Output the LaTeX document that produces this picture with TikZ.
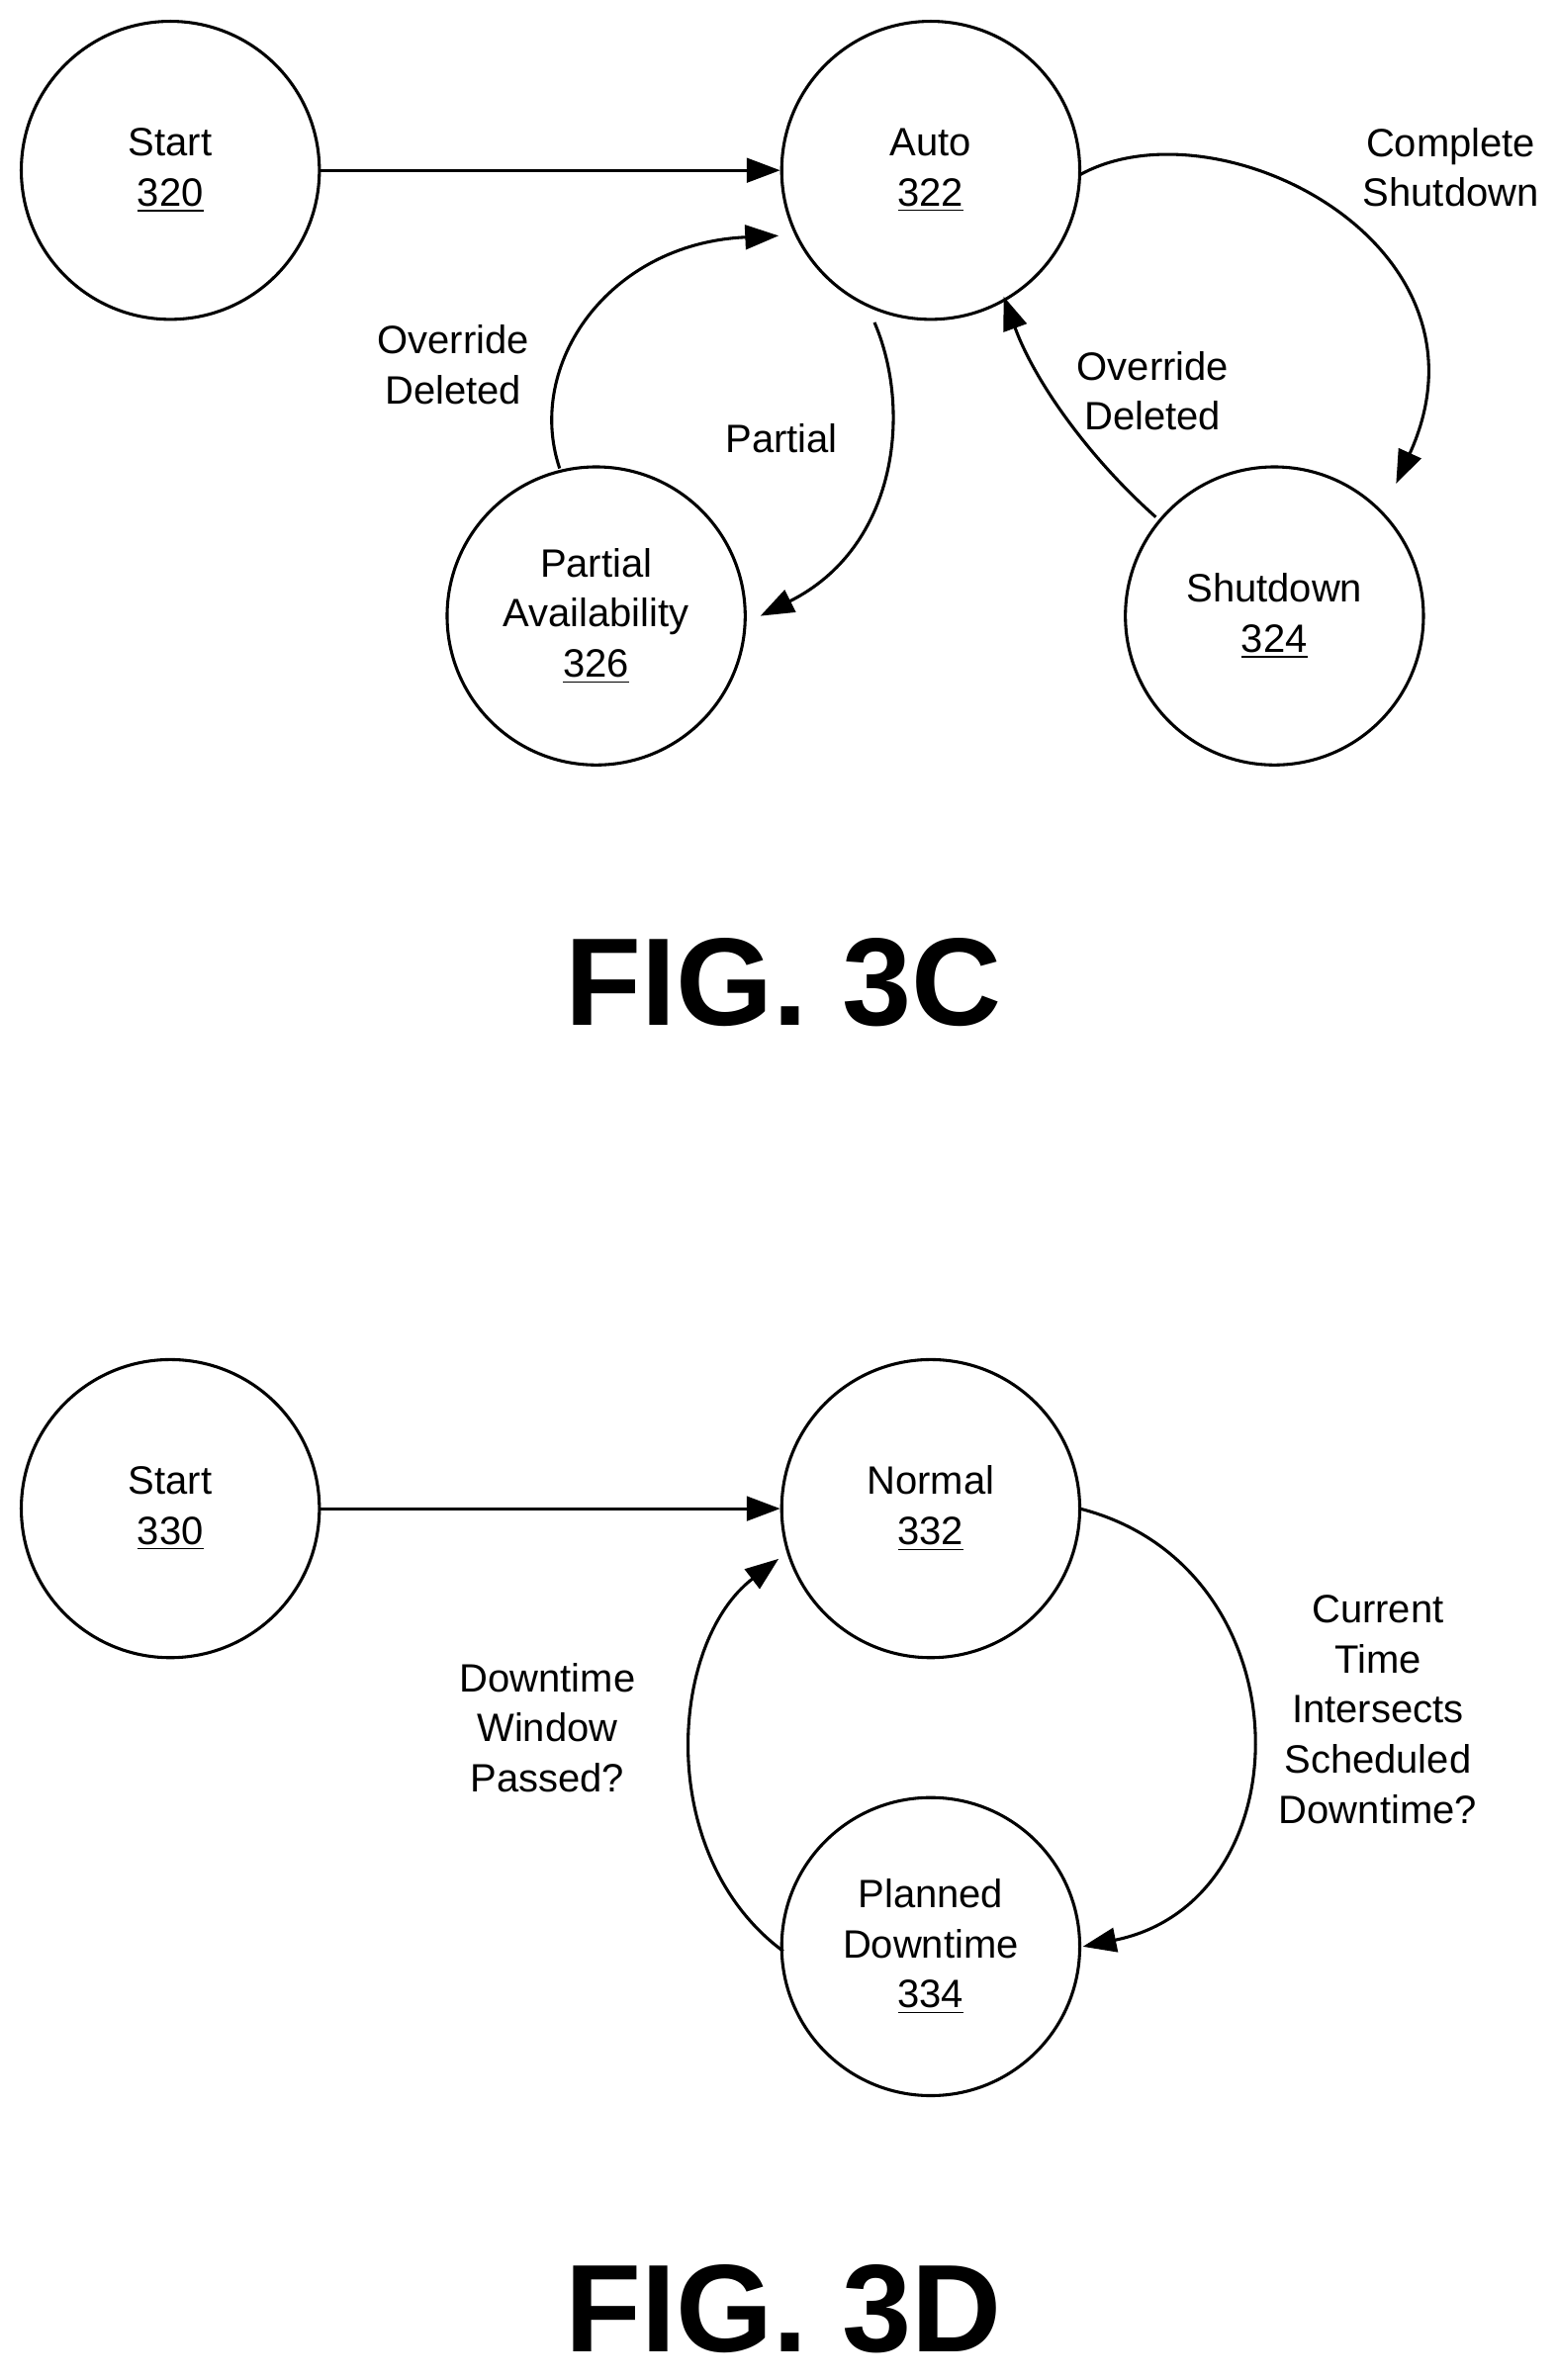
\documentclass[tikz,border=0pt]{standalone}
\usepackage{fontspec}
\setmainfont{Liberation Sans}
\usetikzlibrary{arrows.meta}
\begin{document}
\begin{tikzpicture}[x=0.5pt,y=-0.5pt,
 st/.style={circle,draw,line width=1pt,minimum size=98pt,inner sep=0pt,align=center,font=\fontsize{13}{16.5}\selectfont},
 lb/.style={align=center,font=\fontsize{13}{16.5}\selectfont},
 ar/.style={line width=1pt,-{Triangle[length=11pt,width=8pt]}},
 fig/.style={inner sep=0pt,font=\fontsize{41}{43}\bfseries\selectfont}]
\useasboundingbox (0,0) rectangle (1024,1565);
\node[st] (s320) at (112,112) {Start\\\underline{320}};
\node[st] (a322) at (612,112) {Auto\\\underline{322}};
\node[st] (p326) at (392,405) {Partial\\Availability\\\underline{326}};
\node[st] (s324) at (838,405) {Shutdown\\\underline{324}};
\draw[ar] (s320) -- (a322);
\coordinate (c1) at (710,115); \coordinate (c2) at (918,318);
\draw[ar] (c1) .. controls (800,65) and (990,160) .. (c2);
\coordinate (c3) at (760,340); \coordinate (c4) at (660,195);
\draw[ar] (c3) .. controls (715,300) and (680,250) .. (c4);
\coordinate (c5) at (575,212); \coordinate (c6) at (500,405);
\draw[ar] (c5) .. controls (600,270) and (590,360) .. (c6);
\coordinate (c7) at (368,308); \coordinate (c8) at (512,155);
\draw[ar] (c7) .. controls (345,240) and (400,160) .. (c8);
\node[lb] (l1) at (954,110) {Complete\\Shutdown};
\node[lb] (l2) at (298,240) {Override\\Deleted};
\node[lb] (l3) at (514,288) {Partial};
\node[lb] (l4) at (758,257) {Override\\Deleted};
\node[fig] (f1) at (515,646) {FIG. 3C};
\node[st] (s330) at (112,992) {Start\\\underline{330}};
\node[st] (n332) at (612,992) {Normal\\\underline{332}};
\node[st] (p334) at (612,1280) {Planned\\Downtime\\\underline{334}};
\draw[ar] (s330) -- (n332);
\coordinate (d1) at (710,992); \coordinate (d2) at (712,1280);
\draw[ar] (d1) .. controls (860,1030) and (860,1250) .. (d2);
\coordinate (d3) at (515,1283); \coordinate (d4) at (512,1025);
\draw[ar] (d3) .. controls (430,1220) and (440,1080) .. (d4);
\node[lb] (l5) at (906,1124) {Current\\Time\\Intersects\\Scheduled\\Downtime?};
\node[lb] (l6) at (360,1136) {Downtime\\Window\\Passed?};
\node[fig] (f2) at (515,1518) {FIG. 3D};
\end{tikzpicture}
\end{document}
